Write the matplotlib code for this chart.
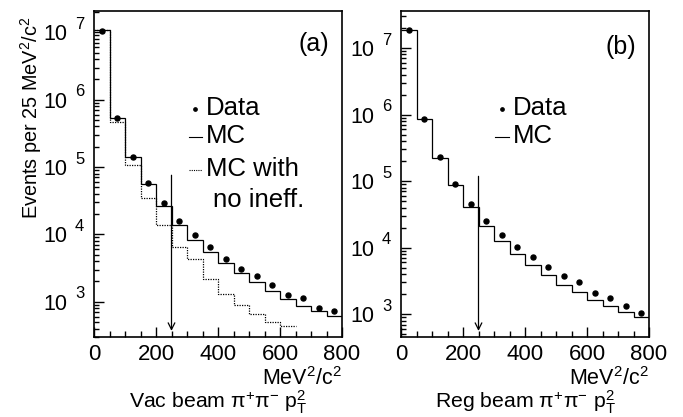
import numpy as np
import matplotlib
matplotlib.use("Agg")
import matplotlib.pyplot as plt
from matplotlib.ticker import FixedLocator, LogLocator, NullFormatter

plt.rcParams['font.family'] = ['Liberation Sans', 'DejaVu Sans']
plt.rcParams['mathtext.fontset'] = 'custom'
plt.rcParams['mathtext.rm'] = 'Liberation Sans'
plt.rcParams['mathtext.it'] = 'Liberation Sans:italic'
plt.rcParams['mathtext.sf'] = 'Liberation Sans'

# ---- data ----
edges = np.arange(0, 850, 50)
centers = edges[:-1] + 25

vac_data = [1.06e7, 5.3e5, 1.43e5, 5.7e4, 2.9e4, 1.6e4, 9.8e3, 6.5e3, 4.35e3,
            3.1e3, 2.38e3, 1.77e3, 1.26e3, 1.12e3, 805, 735]
vac_mc = [1.07e7, 5.3e5, 1.43e5, 5.6e4, 2.6e4, 1.37e4, 8.4e3, 5.4e3, 3.7e3,
          2.64e3, 1.98e3, 1.47e3, 1.11e3, 873, 719, 605]
vac_mc_noineff = [1.07e7, 4.7e5, 1.07e5, 3.5e4, 1.39e4, 6.55e3, 4.3e3, 2.2e3,
                  1.31e3, 900, 656, 494, 441]
vac_noineff_edges = np.arange(0, 700, 50)

reg_data = [1.88e7, 8.7e5, 2.27e5, 9.2e4, 4.5e4, 2.55e4, 1.57e4, 1.02e4, 7.3e3,
            5.1e3, 3.8e3, 3.0e3, 2.1e3, 1.78e3, 1.35e3, 1.04e3]
reg_mc = [1.88e7, 8.7e5, 2.24e5, 8.7e4, 4.05e4, 2.14e4, 1.26e4, 8.0e3, 5.55e3,
          3.9e3, 2.75e3, 2.16e3, 1.64e3, 1.33e3, 1.07e3, 910]

cut = 250
arrow_top = {'a': 8.3e4, 'b': 1.3e5}
ylims = {'a': (300, 2.07e7), 'b': (455, 3.6e7)}
decades = [3, 4, 5, 6, 7]
xticks = [0, 200, 400, 600, 800]

fig = plt.figure(figsize=(6.83, 4.17), dpi=100)
ax_a = fig.add_axes([94/683, 1-337/417, 248/683, 326/417])
ax_b = fig.add_axes([401/683, 1-337/417, 248/683, 326/417])

lw = 0.9
PX = 72/100  # points per pixel
for key, ax, data, mc in [('a', ax_a, vac_data, vac_mc),
                          ('b', ax_b, reg_data, reg_mc)]:
    ax.set_yscale('log')
    ax.stairs(mc, edges, color='black', lw=lw, baseline=None)
    if key == 'a':
        ax.stairs(vac_mc_noineff, vac_noineff_edges, color='black', lw=lw,
                  ls=(0, (1, 1)), baseline=None)
    ax.plot(centers, data, 'o', color='black', ms=3.6, zorder=5)
    ylo, yhi = ylims[key]
    ax.set_ylim(ylo, yhi)
    ax.set_xlim(0, 800)
    # arrow
    ax.annotate('', xy=(cut, ylo * 1.12), xytext=(cut, arrow_top[key]),
                arrowprops=dict(arrowstyle='->', color='black', lw=0.9,
                                mutation_scale=12))
    # ticks
    ax.xaxis.set_major_locator(FixedLocator(xticks))
    ax.xaxis.set_minor_locator(FixedLocator(np.arange(0, 801, 50)))
    ax.set_xticklabels([str(v) for v in xticks])
    ax.yaxis.set_major_locator(FixedLocator([10.0**d for d in decades]))
    ax.set_yticklabels(['10'] * len(decades))
    ax.yaxis.set_minor_locator(LogLocator(base=10, subs=np.arange(2, 10)))
    ax.yaxis.set_minor_formatter(NullFormatter())
    ax.tick_params(axis='both', which='both', direction='in', top=False, right=False,
                   width=1.0)
    ax.tick_params(axis='x', which='major', length=7, pad=5, labelsize=16)
    ax.tick_params(axis='x', which='minor', length=4)
    ax.tick_params(axis='y', which='major', length=7, pad=27 * PX, labelsize=15.5)
    ax.tick_params(axis='y', which='minor', length=3.5)
    for d in decades:
        ax.annotate(str(d), xy=(0, 10.0**d), xycoords=('axes fraction', 'data'),
                    xytext=(-19 * PX, 8 * PX), textcoords='offset points',
                    ha='left', va='center', fontsize=12)
    for s in ax.spines.values():
        s.set_linewidth(1.2)

# x labels
for ax, xname in [(ax_a, r'Vac beam $\mathregular{\pi^{+}\pi^{-}}$ p$_{\mathregular{T}}^{2}$'),
                  (ax_b, r'Reg beam $\mathregular{\pi^{+}\pi^{-}}$ p$_{\mathregular{T}}^{2}$')]:
    pos = ax.get_position()
    fig.text(pos.x1, 1 - 379/417, r'MeV$^{2}$/c$^{2}$', ha='right', va='center', fontsize=15.5)
    fig.text((pos.x0 + pos.x1) / 2, 1 - 402/417, xname, ha='center', va='center', fontsize=15.3)

# y label
fig.text(31/683, 1-118/417, r'Events per 25 MeV$^{2}$/c$^{2}$', rotation=90,
         ha='center', va='center', fontsize=14.3)

# panel tags
ax_a.text(0.95, 0.90, '(a)', transform=ax_a.transAxes, ha='right', va='center', fontsize=18)
ax_b.text(0.95, 0.89, '(b)', transform=ax_b.transAxes, ha='right', va='center', fontsize=18)

def ax_coords(px, py, left, width=248, top=11, height=326):
    return ((px - left) / width, 1 - (py - top) / height)

def legend(ax, left, rows):
    for kind, label, py, px0, px1, px_text in rows:
        x0, y0 = ax_coords(px0, py, left)
        x1, _ = ax_coords(px1, py, left)
        xt, _ = ax_coords(px_text, py, left)
        if kind == 'dot':
            ax.plot([x0], [y0], 'o', color='black', ms=2.4, transform=ax.transAxes, clip_on=False)
        elif kind in ('line', 'dotted'):
            ls = '-' if kind == 'line' else (0, (1, 1))
            ax.plot([x0, x1], [y0, y0], color='black', lw=0.8, ls=ls, transform=ax.transAxes)
        ax.text(xt, y0 + 0.004, label, transform=ax.transAxes, ha='left', va='center', fontsize=18.5)

legend(ax_a, 94, [('dot', 'Data', 109, 195, 195, 206),
                  ('line', 'MC', 137, 189, 202, 206),
                  ('dotted', 'MC with', 170, 189, 202, 206),
                  (None, 'no ineff.', 201, 0, 0, 213)])
legend(ax_b, 401, [('dot', 'Data', 109, 502, 502, 513),
                   ('line', 'MC', 137, 495, 509, 513)])

fig.savefig('out.png', dpi=100)
